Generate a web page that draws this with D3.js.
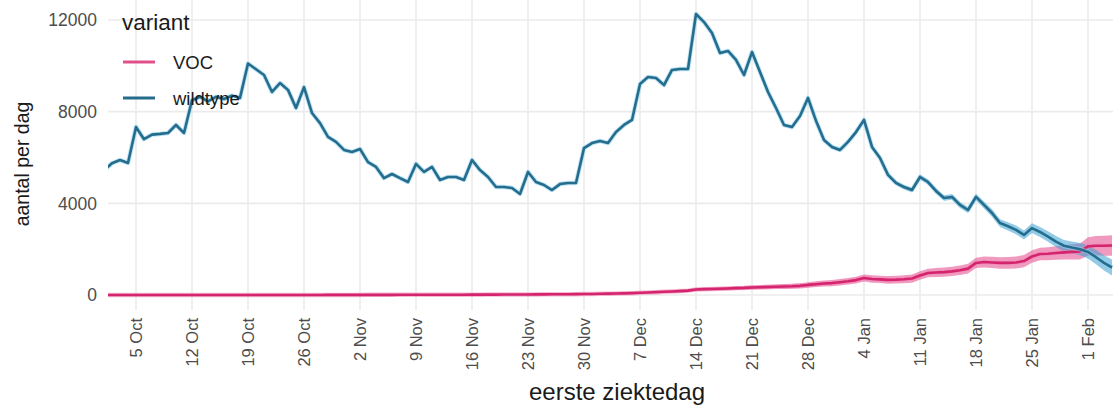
<!DOCTYPE html>
<html>
<head>
<meta charset="utf-8">
<script src="https://cdn.jsdelivr.net/npm/d3@7"></script>
<style>
  body { margin: 0; background: #fff; }
  text { font-family: "Liberation Sans", Arial, sans-serif; }
</style>
</head>
<body>
<div id="chart"></div>
<script>
// daily counts, 1 Oct 2020 .. 4 Feb 2021
const firstDay = "2020-10-01";

const wildtype = [
  // Oct
  5450, 5750, 5890, 5760, 7330, 6800, 7000, 7030, 7070, 7420,
  7070, 8500, 8650, 8450, 8650, 8550, 8700, 8600, 10100, 9850,
  9600, 8860, 9250, 8950, 8160, 9070, 7940, 7500, 6900, 6680, 6330,
  // Nov
  6240, 6370, 5800, 5590, 5100, 5280, 5100, 4930, 5720, 5370,
  5590, 5020, 5150, 5150, 5020, 5890, 5450, 5150, 4710, 4710,
  4670, 4410, 5370, 4930, 4800, 4580, 4840, 4890, 4890, 6410,
  // Dec
  6630, 6720, 6630, 7110, 7420, 7640, 9210, 9510, 9470, 9160,
  9820, 9860, 9860, 12260, 11910, 11430, 10560, 10650, 10260, 9600,
  10600, 9730, 8860, 8160, 7420, 7330, 7810, 8600, 7600, 6760, 6460,
  // Jan
  6330, 6680, 7110, 7640, 6460, 5980, 5240, 4890, 4710, 4580,
  5150, 4930, 4540, 4230, 4280, 3930, 3710, 4280, 3930, 3580,
  3140, 3000, 2840, 2620, 2920, 2750, 2550, 2330, 2150, 2070, 2000,
  // Feb
  1880, 1650, 1400, 1200
];

const voc = [
  0, 0, 0, 0, 0, 0, 0, 0, 0, 0,
  0, 0, 0, 0, 0, 1, 1, 1, 1, 1,
  2, 2, 2, 2, 3, 3, 3, 3, 4, 4, 4,
  5, 5, 6, 6, 7, 7, 8, 8, 9, 10,
  10, 11, 12, 13, 14, 15, 16, 17, 18, 20,
  21, 22, 24, 26, 28, 30, 32, 35, 38, 42,
  46, 52, 58, 65, 72, 80, 95, 110, 125, 140,
  155, 170, 190, 240, 255, 265, 275, 285, 300, 310,
  330, 340, 350, 360, 370, 380, 400, 440, 470, 500, 520,
  560, 600, 650, 740, 700, 680, 660, 670, 690, 720,
  850, 960, 980, 1000, 1030, 1080, 1150, 1400, 1440, 1420,
  1400, 1400, 1420, 1480, 1680, 1790, 1800, 1830, 1860, 1880, 1900,
  2120, 2150, 2150, 2160
];

// half width of the uncertainty band
const wildtypeBand = [
  35, 35, 35, 35, 35, 35, 35, 35, 35, 35,
  35, 35, 35, 35, 35, 35, 35, 35, 35, 35,
  35, 35, 35, 35, 35, 35, 35, 35, 35, 35, 35,
  35, 35, 35, 35, 35, 35, 35, 35, 35, 35,
  35, 35, 35, 35, 35, 35, 35, 35, 35, 35,
  35, 35, 35, 35, 35, 35, 35, 35, 35, 35,
  40, 40, 40, 40, 40, 40, 45, 45, 45, 45,
  45, 45, 50, 50, 50, 50, 50, 50, 55, 55,
  55, 55, 60, 60, 60, 60, 65, 65, 65, 70, 70,
  75, 75, 80, 80, 85, 85, 90, 90, 95, 100,
  105, 110, 115, 120, 125, 130, 135, 140, 150, 160,
  170, 180, 190, 200, 210, 220, 230, 240, 250, 260, 270,
  290, 310, 330, 350
];

const vocBand = [
  4, 4, 4, 4, 4, 4, 4, 4, 4, 4,
  4, 4, 4, 4, 4, 4, 4, 4, 4, 4,
  5, 5, 5, 5, 5, 5, 5, 5, 6, 6, 6,
  6, 6, 6, 7, 7, 7, 7, 8, 8, 8,
  8, 9, 9, 9, 10, 10, 10, 11, 11, 12,
  12, 13, 13, 14, 15, 16, 17, 18, 19, 20,
  22, 24, 26, 28, 30, 32, 35, 38, 42, 46,
  50, 54, 58, 62, 66, 70, 74, 78, 82, 86,
  90, 94, 98, 102, 106, 110, 115, 120, 125, 130, 135,
  140, 145, 150, 155, 160, 160, 165, 170, 175, 180,
  185, 190, 195, 200, 205, 210, 215, 225, 235, 245,
  250, 255, 260, 265, 270, 275, 285, 295, 310, 330, 350,
  400, 420, 440, 450
];

const tickDates = ["2020-10-05", "2020-10-12", "2020-10-19", "2020-10-26", "2020-11-02",
  "2020-11-09", "2020-11-16", "2020-11-23", "2020-11-30", "2020-12-07", "2020-12-14",
  "2020-12-21", "2020-12-28", "2021-01-04", "2021-01-11", "2021-01-18", "2021-01-25", "2021-02-01"];
const yTicks = [0, 4000, 8000, 12000];

const variants = ["VOC", "wildtype"];
const lineColor = { "VOC": "#d4246d", "wildtype": "#256c8d" };
const haloColor = { "VOC": "#f08ab4", "wildtype": "#8fd2ee" };
const bandColor = { "VOC": "#e4478c", "wildtype": "#3b9ed2" };

var W = 1113, H = 407;
var panel = { left: 108, right: 1113, top: 0, bottom: 310 };

var svg = d3.select("#chart").append("svg")
    .attr("width", W).attr("height", H);

var parse = d3.utcParse("%Y-%m-%d");
var start = parse(firstDay);
var days = wildtype.map((v, i) => d3.utcDay.offset(start, i));

// 8 px per day, left edge of the panel half a day after the first date
var x = d3.scaleUtc()
    .domain([d3.utcHour.offset(start, 12), d3.utcDay.offset(start, 127)])
    .range([108, 104 + 127 * 8]);

var y = d3.scaleLinear()
    .domain([0, 12000])
    .range([295, 20]);

// grid
var grid = svg.append("g");
grid.selectAll("line.v")
  .data(tickDates.map(parse))
  .enter().append("line")
    .attr("x1", d => x(d)).attr("x2", d => x(d))
    .attr("y1", panel.top).attr("y2", panel.bottom)
    .attr("stroke", "#ebebeb").attr("stroke-width", 1.6);
grid.selectAll("line.h")
  .data(yTicks)
  .enter().append("line")
    .attr("x1", panel.left).attr("x2", panel.right)
    .attr("y1", d => y(d)).attr("y2", d => y(d))
    .attr("stroke", "#ebebeb").attr("stroke-width", 1.6);

svg.append("clipPath").attr("id", "clip")
  .append("rect")
    .attr("x", panel.left).attr("y", panel.top)
    .attr("width", panel.right - panel.left).attr("height", panel.bottom - panel.top);

var series = {
  "VOC": days.map((d, i) => ({ date: d, value: voc[i], band: vocBand[i] })),
  "wildtype": days.map((d, i) => ({ date: d, value: wildtype[i], band: wildtypeBand[i] }))
};

var plot = svg.append("g").attr("clip-path", "url(#clip)");

var area = d3.area()
    .x(d => x(d.date))
    .y0(d => y(Math.max(0, d.value - d.band)))
    .y1(d => y(d.value + d.band));

var line = d3.line()
    .x(d => x(d.date))
    .y(d => y(d.value));

variants.forEach(v => {
  plot.append("path")
    .datum(series[v])
    .attr("d", area)
    .attr("fill", bandColor[v])
    .attr("fill-opacity", 0.55);
});

variants.forEach(v => {
  // soft edge round the line, like the blurred original
  plot.append("path")
    .datum(series[v])
    .attr("d", line)
    .attr("fill", "none")
    .attr("stroke", haloColor[v])
    .attr("stroke-opacity", 0.6)
    .attr("stroke-width", 4.5)
    .attr("stroke-linejoin", "round");
  plot.append("path")
    .datum(series[v])
    .attr("d", line)
    .attr("fill", "none")
    .attr("stroke", lineColor[v])
    .attr("stroke-width", 2.6)
    .attr("stroke-linejoin", "round");
});

// y axis labels
svg.append("g").selectAll("text")
  .data(yTicks)
  .enter().append("text")
    .attr("x", 97)
    .attr("y", d => y(d))
    .attr("dy", "0.36em")
    .attr("text-anchor", "end")
    .attr("fill", "#4d4d4d")
    .style("font-size", "17.5px")
    .text(d => d);

// x axis labels, rotated
var fmt = d3.utcFormat("%-d %b");
svg.append("g").selectAll("text")
  .data(tickDates.map(parse))
  .enter().append("text")
    .attr("transform", d => `translate(${x(d) + 6},318) rotate(-90)`)
    .attr("text-anchor", "end")
    .attr("fill", "#4d4d4d")
    .style("font-size", "16.5px")
    .text(d => fmt(d));

// axis titles
svg.append("text")
    .attr("transform", "translate(29,164) rotate(-90)")
    .attr("text-anchor", "middle")
    .attr("fill", "#1a1a1a")
    .style("font-size", "19.5px")
    .text("aantal per dag");

svg.append("text")
    .attr("x", 617).attr("y", 400)
    .attr("text-anchor", "middle")
    .attr("fill", "#1a1a1a")
    .style("font-size", "24px")
    .text("eerste ziektedag");

// legend
var legend = svg.append("g");
legend.append("text")
    .attr("x", 122).attr("y", 30)
    .attr("fill", "#1a1a1a")
    .style("font-size", "22.5px")
    .text("variant");

variants.forEach((v, i) => {
  var ly = 62 + i * 36;
  legend.append("line")
    .attr("x1", 123).attr("x2", 155)
    .attr("y1", ly).attr("y2", ly)
    .attr("stroke", v === "VOC" ? "#e0508a" : lineColor[v])
    .attr("stroke-width", 3);
  legend.append("text")
    .attr("x", 173).attr("y", ly)
    .attr("dy", "0.36em")
    .attr("fill", "#1a1a1a")
    .style("font-size", "18.5px")
    .text(v);
});
</script>
</body>
</html>
